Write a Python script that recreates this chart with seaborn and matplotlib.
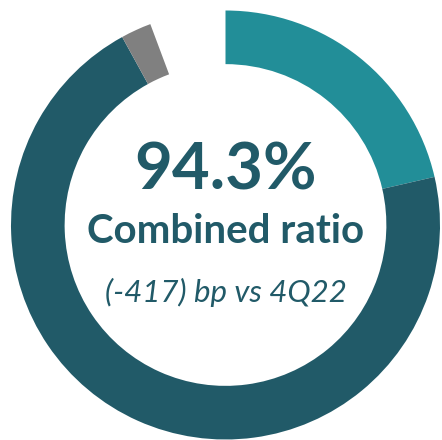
import matplotlib
matplotlib.use("Agg")
import matplotlib.pyplot as plt
import seaborn as sns

sns.set_theme(style="white")
plt.rcParams['font.family'] = ['Lato', 'DejaVu Sans']

segments = ["Expense ratio", "Loss ratio", "Other", "Remainder"]
values = [21.4, 70.6, 2.3, 5.7]
seg_colors = ["#228E98", "#215A68", "#808080", "none"]
headline = "94.3%"
subtitle = "Combined ratio"
note = "(-417) bp vs 4Q22"
text_color = "#215A68"

fig = plt.figure(figsize=(4.42, 4.40), dpi=100)
ax = fig.add_axes([11/442, 0.5/440, 429/442, 429/440])
ax.pie(values, colors=seg_colors, startangle=90, counterclock=False,
       radius=1.0, wedgeprops=dict(width=0.25, linewidth=0, edgecolor="none"))
ax.set_xlim(-1, 1)
ax.set_ylim(-1, 1)
ax.set_aspect("equal")
ax.axis("off")

ax.text(0, 0.25, headline, ha="center", va="center", fontsize=47,
        fontweight="bold", color=text_color)
ax.text(0, -0.03, subtitle, ha="center", va="center", fontsize=29,
        fontweight="bold", color=text_color)
ax.text(0, -0.315, note, ha="center", va="center", fontsize=22.5,
        fontstyle="italic", fontweight="normal", color=text_color)

fig.savefig("out.png", dpi=100)
